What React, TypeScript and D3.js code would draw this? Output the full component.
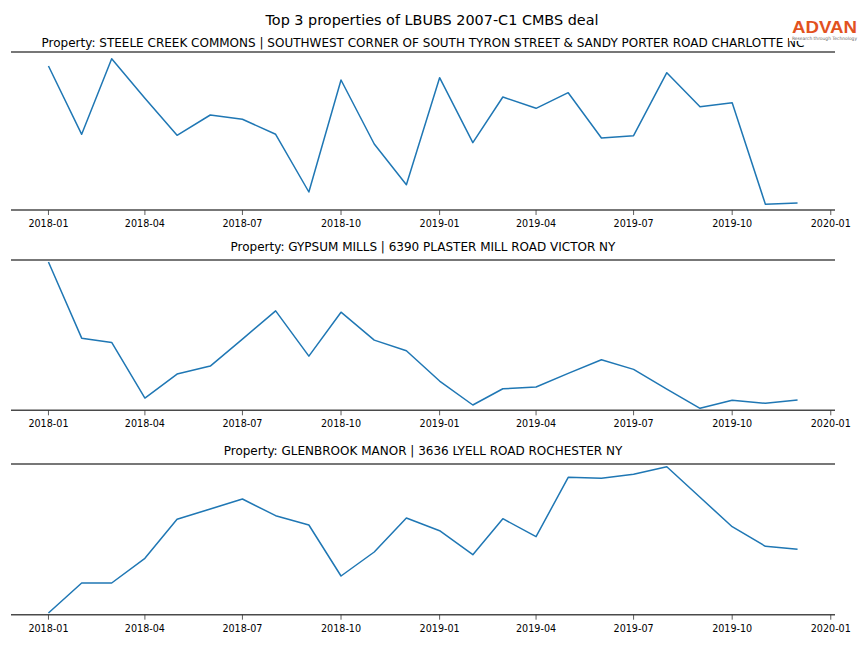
import React from "react";
import * as d3 from "d3";

const months = [
  "2018-01", "2018-02", "2018-03", "2018-04", "2018-05", "2018-06",
  "2018-07", "2018-08", "2018-09", "2018-10", "2018-11", "2018-12",
  "2019-01", "2019-02", "2019-03", "2019-04", "2019-05", "2019-06",
  "2019-07", "2019-08", "2019-09", "2019-10", "2019-11", "2019-12",
];

const steeleCreek = [1440, 757, 1513, 1118, 747, 950, 907, 757, 180, 1300, 660, 253,
  1323, 673, 1130, 1017, 1173, 720, 743, 1373, 1033, 1073, 57, 70];
const gypsumMills = [1486, 723, 680, 123, 363, 443, 713, 996, 543, 983, 703, 596,
  293, 53, 216, 233, 370, 506, 410, 213, 20, 100, 70, 103];
const glenbrookManor = [17, 317, 317, 564, 954, 1057, 1157, 990, 897, 387, 627, 967,
  840, 600, 960, 780, 1374, 1364, 1404, 1480, 1174, 880, 684, 654];

const mainTitle = "Top 3 properties of LBUBS 2007-C1 CMBS deal";
const panelTitles = [
  "Property: STEELE CREEK COMMONS | SOUTHWEST CORNER OF SOUTH TYRON STREET & SANDY PORTER ROAD CHARLOTTE NC",
  "Property: GYPSUM MILLS | 6390 PLASTER MILL ROAD VICTOR NY",
  "Property: GLENBROOK MANOR | 3636 LYELL ROAD ROCHESTER NY",
];
const seriesList = [steeleCreek, gypsumMills, glenbrookManor];

const W = 864;
const H = 648;
const LEFT = 11;
const RIGHT = 835;
const panels = [
  { top: 52, bottom: 210, yMax: 1580, titleY: 47 },
  { top: 260, bottom: 410.3, yMax: 1506, titleY: 251 },
  { top: 464, bottom: 614.7, yMax: 1507, titleY: 455 },
];
const FONT = "DejaVu Sans, sans-serif";
const LINE = "#1f77b4";
const SPINE = "#4a4a4a";

const parse = d3.utcParse("%Y-%m");
const dates = months.map((m) => parse(m) as Date);
const first = dates[0].getTime();
const last = dates[dates.length - 1].getTime();
const pad = (last - first) * 0.05;

const x = d3.scaleUtc().domain([new Date(first - pad), new Date(last + pad)]).range([LEFT, RIGHT]);
const ticks = x.ticks(d3.utcMonth.every(3) as any);
const fmt = d3.utcFormat("%Y-%m");

function Panel({ idx }: { idx: number }) {
  const p = panels[idx];
  const values = seriesList[idx];
  const y = d3.scaleLinear().domain([0, p.yMax]).range([p.bottom, p.top]);
  const line = d3
    .line<number>()
    .x((_, i) => x(dates[i]))
    .y((v) => y(v));
  return (
    <g>
      <text x={(LEFT + RIGHT) / 2} y={p.titleY} textAnchor="middle" fontSize={12} fontFamily={FONT} fill="#000">
        {panelTitles[idx]}
      </text>
      <line x1={LEFT} x2={RIGHT} y1={p.top} y2={p.top} stroke={SPINE} strokeWidth={1.5} />
      <path d={line(values) || ""} fill="none" stroke={LINE} strokeWidth={1.5} strokeLinejoin="round" />
      <line x1={LEFT} x2={RIGHT} y1={p.bottom} y2={p.bottom} stroke={SPINE} strokeWidth={1.5} />
      {ticks.map((t) => (
        <g key={t.getTime()} transform={`translate(${x(t)},${p.bottom})`}>
          <line y1={0} y2={5} stroke="#333" strokeWidth={0.8} />
          <text y={17} textAnchor="middle" fontSize={9.6} fontFamily={FONT} fill="#000">
            {fmt(t)}
          </text>
        </g>
      ))}
    </g>
  );
}

export default function App() {
  return (
    <svg width={W} height={H} style={{ position: "absolute", left: 0, top: 0, background: "#fff" }}>
      <rect width={W} height={H} fill="#fff" />
      <text x={W / 2} y={25} textAnchor="middle" fontSize={14.4} fontFamily={FONT} fill="#000">
        {mainTitle}
      </text>
      {panels.map((_, i) => (
        <Panel key={i} idx={i} />
      ))}
      <g>
        <rect x={789} y={12} width={75} height={29} fill="#fff" />
        <text x={792} y={33} fontSize={17} fontWeight="bold" fontFamily="Liberation Sans, sans-serif" fill="#e2521f" textLength={65} lengthAdjust="spacingAndGlyphs">
          ADVAN
        </text>
        <text x={792} y={39.5} fontSize={4.5} fontFamily={FONT} fill="#666" textLength={65} lengthAdjust="spacingAndGlyphs">
          Research through Technology
        </text>
      </g>
    </svg>
  );
}
